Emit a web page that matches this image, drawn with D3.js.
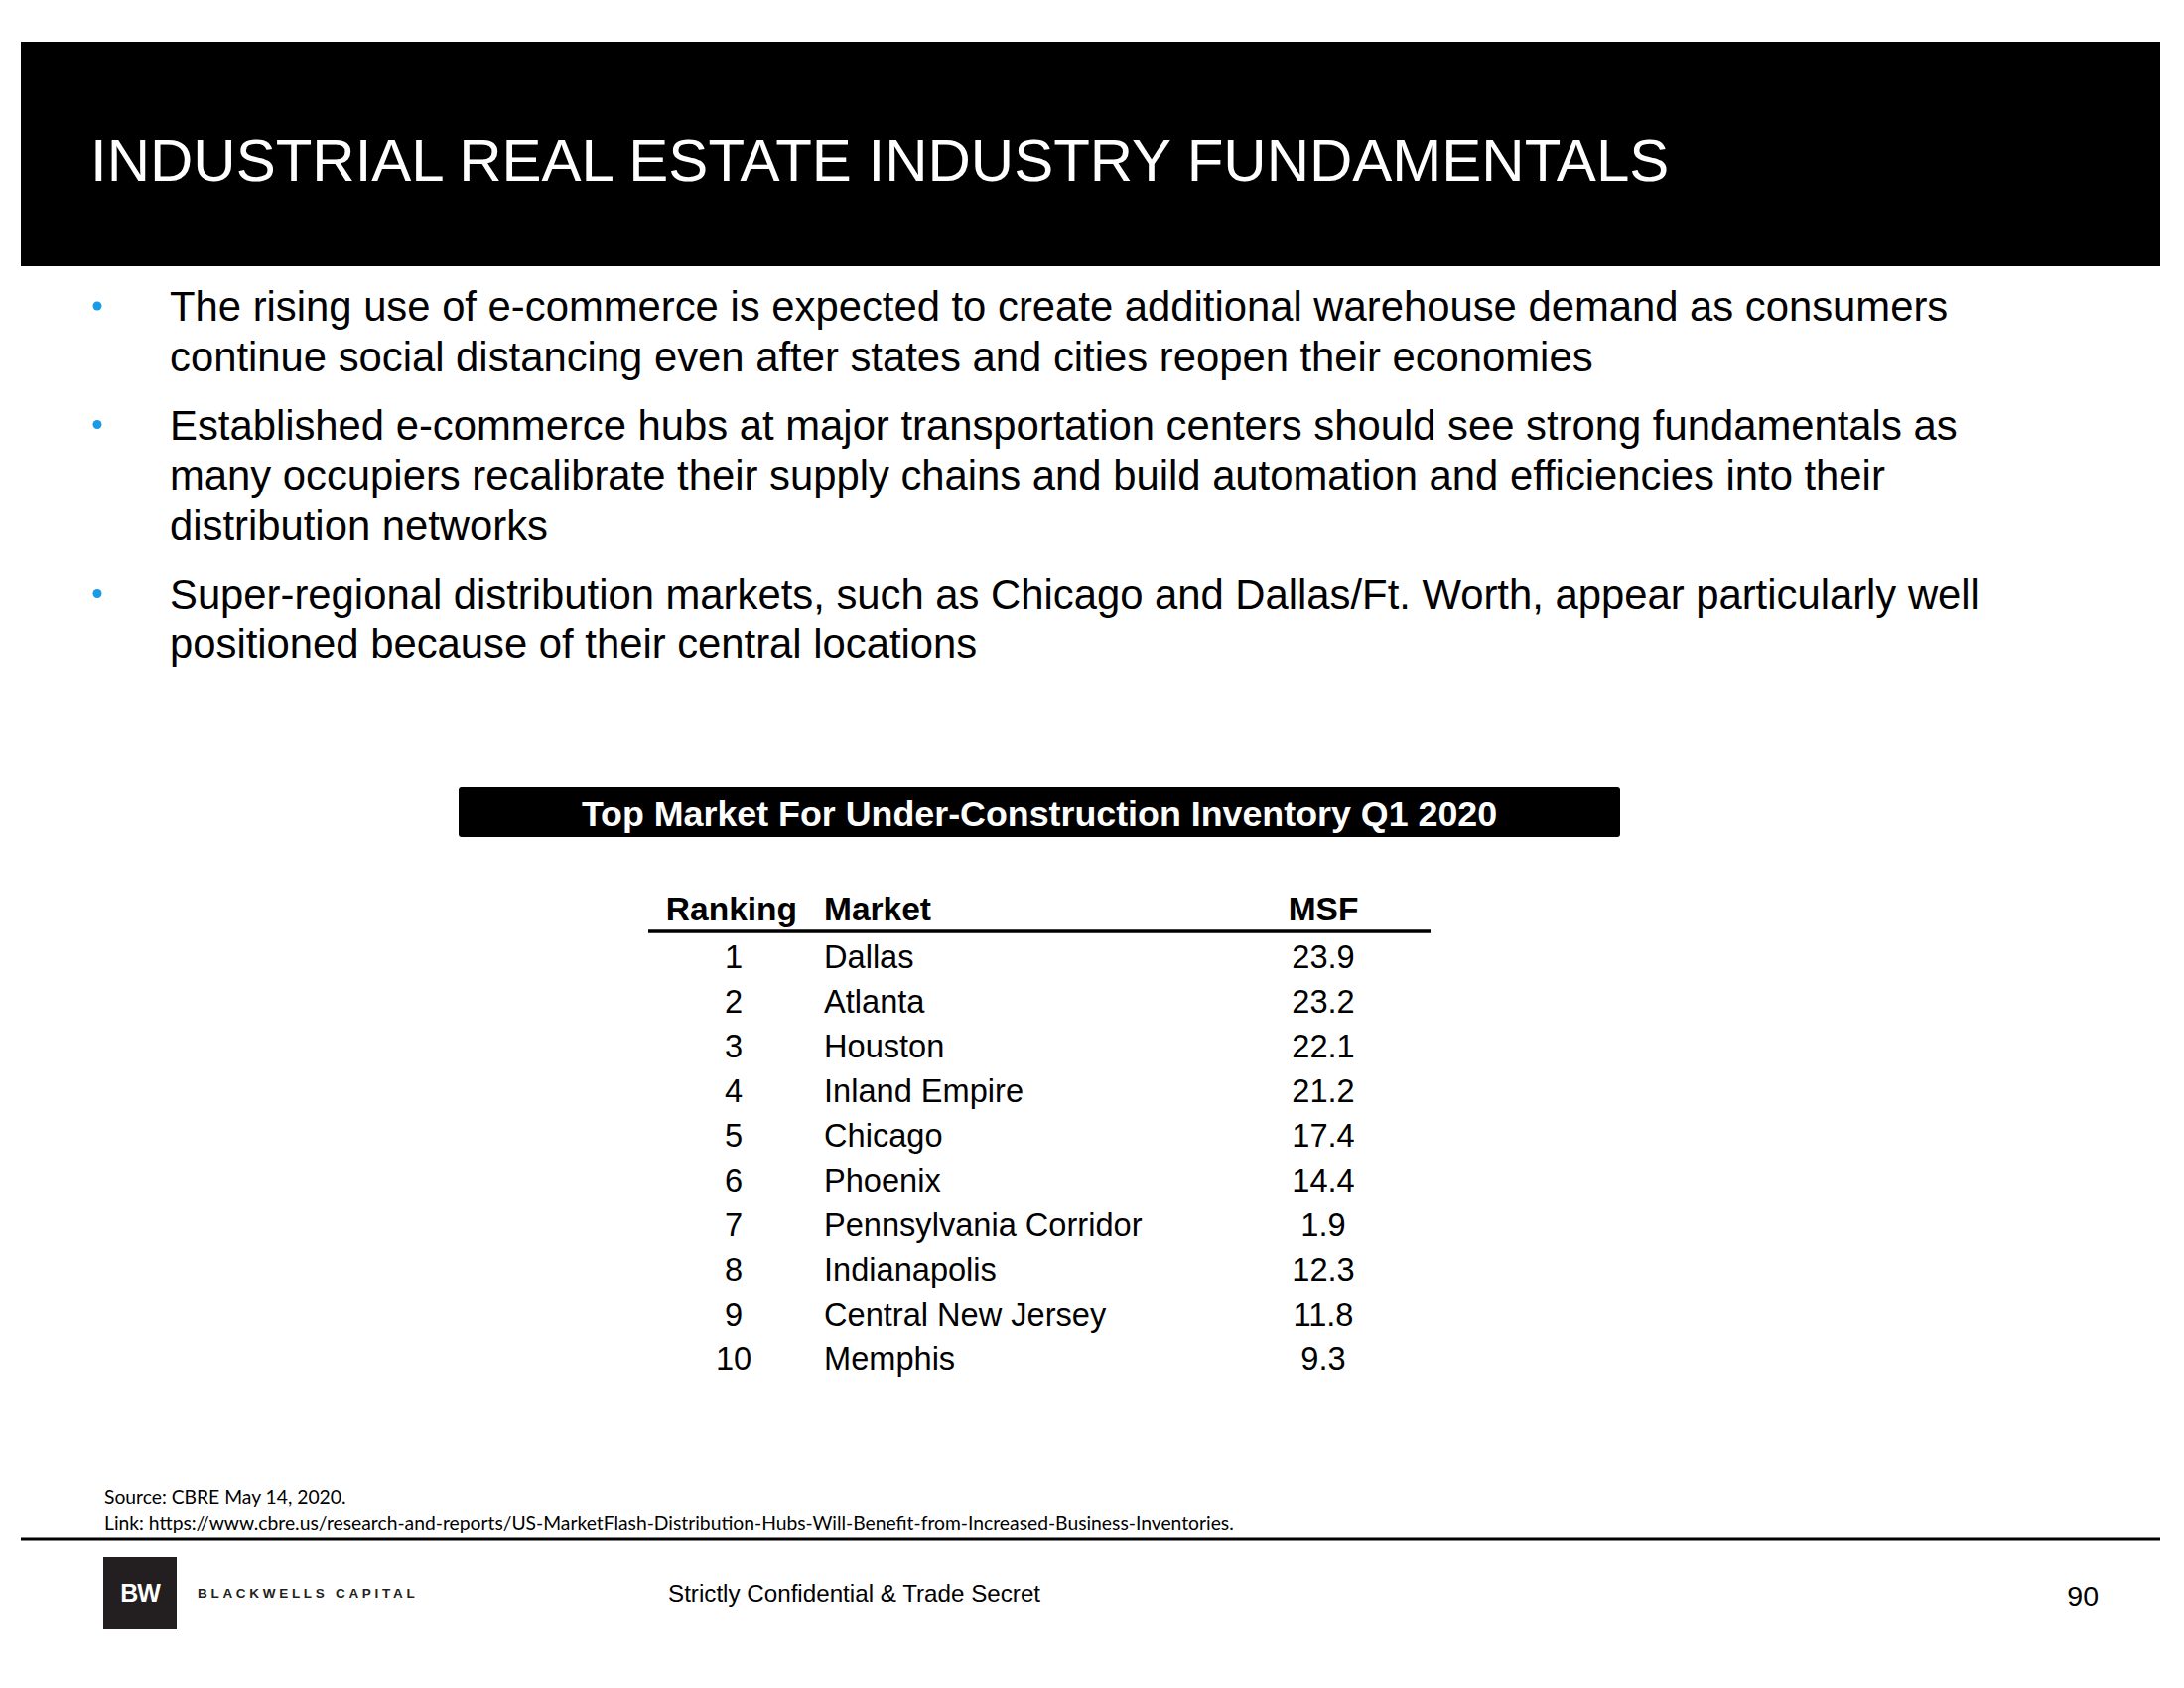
<!DOCTYPE html>
<html>
<head>
<meta charset="utf-8">
<script src="https://cdn.jsdelivr.net/npm/d3@7"></script>
<style>
  html, body { margin: 0; padding: 0; background: #fff; }
  svg { display: block; font-family: 'Liberation Sans', Arial, sans-serif; }
</style>
</head>
<body>
<svg id="slide" width="2200" height="1700"></svg>
<script>
// table data
let ranks = [1, 2, 3, 4, 5, 6, 7, 8, 9, 10];
let markets = ['Dallas', 'Atlanta', 'Houston', 'Inland Empire', 'Chicago', 'Phoenix',
  'Pennsylvania Corridor', 'Indianapolis', 'Central New Jersey', 'Memphis'];
let msf = ['23.9', '23.2', '22.1', '21.2', '17.4', '14.4', '1.9', '12.3', '11.8', '9.3'];
let columns = ['Ranking', 'Market', 'MSF'];

let bullets = [
  ['The rising use of e-commerce is expected to create additional warehouse demand as consumers',
   'continue social distancing even after states and cities reopen their economies'],
  ['Established e-commerce hubs at major transportation centers should see strong fundamentals as',
   'many occupiers recalibrate their supply chains and build automation and efficiencies into their',
   'distribution networks'],
  ['Super-regional distribution markets, such as Chicago and Dallas/Ft. Worth, appear particularly well',
   'positioned because of their central locations']
];

var svg = d3.select('#slide');

// header band
svg.append('rect').attr('x', 21).attr('y', 42).attr('width', 2155).attr('height', 226).attr('fill', '#000');
svg.append('text').attr('x', 91).attr('y', 182)
  .attr('font-size', 60).attr('fill', '#fff')
  .text('INDUSTRIAL REAL ESTATE INDUSTRY FUNDAMENTALS');

// bullets
var lineH = 50.5;
var by = 323;
bullets.forEach(function(lines, i) {
  var g = svg.append('g').attr('class', 'bullet' + i);
  g.append('circle').attr('cx', 98).attr('cy', by - 15).attr('r', 4.5).attr('fill', '#1a9be6');
  g.selectAll('text').data(lines).enter().append('text')
    .attr('x', 171)
    .attr('y', function(d, j) { return by + j * lineH; })
    .attr('font-size', 41.8).attr('fill', '#000')
    .text(function(d) { return d; });
  by += lines.length * lineH + 18.5;
});

// table title bar
svg.append('rect').attr('x', 462).attr('y', 793).attr('width', 1170).attr('height', 50)
  .attr('rx', 3).attr('fill', '#000');
svg.append('text').attr('x', 1047).attr('y', 832).attr('text-anchor', 'middle')
  .attr('font-size', 35.8).attr('font-weight', 'bold').attr('fill', '#fff')
  .text('Top Market For Under-Construction Inventory Q1 2020');

// table
var y = d3.scalePoint().domain(ranks).range([975, 975 + 9 * 45]);
var colX = { Ranking: 739, Market: 830, MSF: 1333 };
var colAnchor = { Ranking: 'middle', Market: 'start', MSF: 'middle' };

svg.append('g').selectAll('text').data(columns).enter().append('text')
  .attr('x', function(d) { return d === 'Ranking' ? 803 : colX[d]; })
  .attr('y', 927)
  .attr('text-anchor', function(d) { return d === 'Ranking' ? 'end' : colAnchor[d]; })
  .attr('font-size', 33.5).attr('font-weight', 'bold')
  .text(function(d) { return d; });

svg.append('line').attr('x1', 653).attr('x2', 1441).attr('y1', 938).attr('y2', 938)
  .attr('stroke', '#000').attr('stroke-width', 3.5);

var rows = svg.append('g').attr('class', 'rows').selectAll('g').data(ranks).enter().append('g')
  .attr('transform', function(d) { return 'translate(0,' + y(d) + ')'; });
rows.append('text').attr('x', colX.Ranking).attr('text-anchor', 'middle')
  .attr('font-size', 32.6).text(function(d) { return d; });
rows.append('text').attr('x', colX.Market)
  .attr('font-size', 32.6).text(function(d, i) { return markets[i]; });
rows.append('text').attr('x', colX.MSF).attr('text-anchor', 'middle')
  .attr('font-size', 32.6).text(function(d, i) { return msf[i]; });

// source notes
svg.append('text').attr('x', 105).attr('y', 1515)
  .attr('font-family', 'Lato, sans-serif').attr('font-size', 19.3)
  .text('Source: CBRE May 14, 2020.');
svg.append('text').attr('x', 105).attr('y', 1541)
  .attr('font-family', 'Lato, sans-serif').attr('font-size', 19.3)
  .text('Link: https://www.cbre.us/research-and-reports/US-MarketFlash-Distribution-Hubs-Will-Benefit-from-Increased-Business-Inventories.');

// footer
svg.append('line').attr('x1', 21).attr('x2', 2176).attr('y1', 1550).attr('y2', 1550)
  .attr('stroke', '#000').attr('stroke-width', 3);
svg.append('rect').attr('x', 104).attr('y', 1568).attr('width', 74).attr('height', 73).attr('fill', '#231f20');
svg.append('text').attr('x', 141).attr('y', 1613).attr('text-anchor', 'middle')
  .attr('font-size', 25).attr('font-weight', 'bold').attr('fill', '#fff')
  .attr('letter-spacing', -1).text('BW');
svg.append('text').attr('x', 199).attr('y', 1609)
  .attr('font-size', 13.5).attr('font-weight', 'bold').attr('fill', '#231f20')
  .attr('letter-spacing', 3.7).text('BLACKWELLS CAPITAL');
svg.append('text').attr('x', 673).attr('y', 1613)
  .attr('font-size', 24.2).text('Strictly Confidential & Trade Secret');
svg.append('text').attr('x', 2114).attr('y', 1617).attr('text-anchor', 'end')
  .attr('font-size', 28.5).text('90');
</script>
</body>
</html>
